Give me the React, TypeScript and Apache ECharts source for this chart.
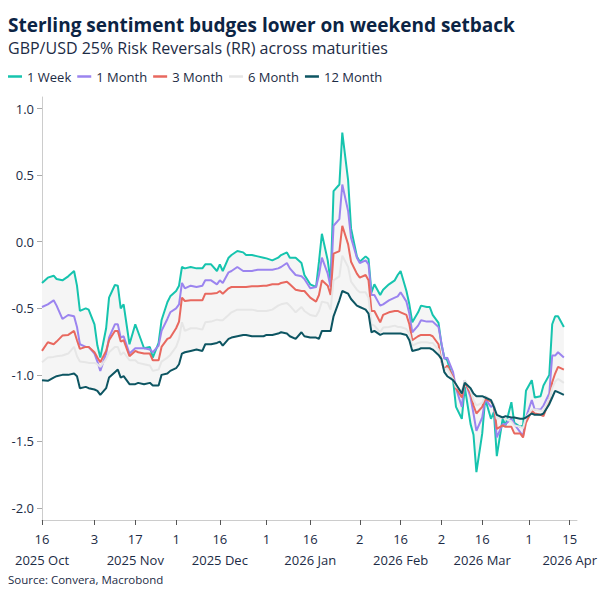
import React, { useEffect, useRef } from "react";
import * as echarts from "echarts";

const START = "2025-10-16";

const dates = [
  "2025-10-16","2025-10-18","2025-10-20","2025-10-21","2025-10-23","2025-10-25","2025-10-27","2025-10-28","2025-10-29","2025-10-31",
  "2025-11-01","2025-11-03","2025-11-04","2025-11-05","2025-11-07","2025-11-08","2025-11-10","2025-11-11","2025-11-12","2025-11-13",
  "2025-11-15","2025-11-17","2025-11-18","2025-11-20","2025-11-22","2025-11-23","2025-11-25","2025-11-26","2025-11-28","2025-11-29",
  "2025-12-01","2025-12-02","2025-12-03","2025-12-04","2025-12-06","2025-12-08","2025-12-10","2025-12-11","2025-12-13","2025-12-15",
  "2025-12-16","2025-12-17","2025-12-19","2025-12-20","2025-12-22","2025-12-24","2025-12-25","2025-12-27","2025-12-29","2025-12-31",
  "2026-01-01","2026-01-03","2026-01-05","2026-01-06","2026-01-08","2026-01-09","2026-01-11","2026-01-13","2026-01-14","2026-01-16",
  "2026-01-18","2026-01-19","2026-01-20","2026-01-22","2026-01-23","2026-01-24","2026-01-26","2026-01-27","2026-01-29","2026-01-30",
  "2026-02-01","2026-02-02","2026-02-04","2026-02-05","2026-02-06","2026-02-07","2026-02-09","2026-02-10","2026-02-12","2026-02-14",
  "2026-02-15","2026-02-16","2026-02-18","2026-02-19","2026-02-20","2026-02-22","2026-02-23","2026-02-25","2026-02-26","2026-02-27",
  "2026-03-01","2026-03-02","2026-03-03","2026-03-04","2026-03-06","2026-03-07","2026-03-09","2026-03-10","2026-03-12","2026-03-13",
  "2026-03-14","2026-03-16","2026-03-17","2026-03-19","2026-03-20","2026-03-21","2026-03-23","2026-03-24","2026-03-26","2026-03-27",
  "2026-03-29","2026-03-30","2026-03-31","2026-04-02","2026-04-03","2026-04-05","2026-04-06","2026-04-08","2026-04-09","2026-04-10",
  "2026-04-11","2026-04-13",
];

const week1 = [
  -0.31,-0.27,-0.255,-0.28,-0.29,-0.26,-0.22,-0.33,-0.52,-0.50,
  -0.51,-0.62,-0.78,-0.87,-0.65,-0.42,-0.325,-0.33,-0.50,-0.47,
  -0.77,-0.62,-0.68,-0.80,-0.79,-0.87,-0.76,-0.59,-0.455,-0.41,
  -0.37,-0.33,-0.19,-0.20,-0.19,-0.20,-0.20,-0.17,-0.17,-0.22,
  -0.17,-0.22,-0.12,-0.10,-0.07,-0.08,-0.10,-0.10,-0.11,-0.12,
  -0.125,-0.14,-0.12,-0.10,-0.08,-0.12,-0.12,-0.16,-0.25,-0.32,
  -0.34,-0.15,0.06,-0.14,-0.30,0.38,0.43,0.82,0.46,0.10,
  -0.11,-0.15,-0.11,-0.13,-0.38,-0.32,-0.40,-0.36,-0.32,-0.29,
  -0.25,-0.22,-0.37,-0.47,-0.605,-0.53,-0.48,-0.49,-0.49,-0.55,
  -0.61,-0.77,-0.87,-0.89,-1.04,-1.24,-1.33,-1.09,-1.37,-1.45,
  -1.73,-1.44,-1.18,-1.33,-1.28,-1.61,-1.33,-1.38,-1.205,-1.36,
  -1.39,-1.38,-1.12,-1.04,-1.17,-1.16,-1.08,-1.0,-0.62,-0.56,
  -0.56,-0.64,
];

const month1 = [
  -0.49,-0.47,-0.44,-0.48,-0.58,-0.55,-0.56,-0.64,-0.77,-0.79,
  -0.79,-0.84,-0.90,-0.97,-0.84,-0.72,-0.62,-0.62,-0.72,-0.71,
  -0.84,-0.80,-0.80,-0.80,-0.81,-0.83,-0.78,-0.67,-0.58,-0.53,
  -0.50,-0.47,-0.31,-0.35,-0.33,-0.34,-0.33,-0.29,-0.29,-0.32,
  -0.29,-0.31,-0.23,-0.22,-0.19,-0.22,-0.22,-0.22,-0.21,-0.21,
  -0.21,-0.21,-0.20,-0.19,-0.16,-0.20,-0.25,-0.26,-0.28,-0.35,
  -0.34,-0.25,-0.12,-0.24,-0.34,0.12,0.17,0.43,0.23,0.03,
  -0.12,-0.16,-0.14,-0.17,-0.40,-0.40,-0.48,-0.47,-0.44,-0.42,
  -0.41,-0.38,-0.45,-0.54,-0.68,-0.63,-0.59,-0.60,-0.60,-0.60,
  -0.64,-0.76,-0.88,-0.87,-0.98,-1.10,-1.24,-1.04,-1.17,-1.29,
  -1.42,-1.32,-1.18,-1.24,-1.23,-1.47,-1.37,-1.37,-1.33,-1.37,
  -1.43,-1.46,-1.32,-1.19,-1.26,-1.26,-1.23,-1.14,-0.855,-0.855,
  -0.83,-0.87,
];

const month3 = [
  -0.82,-0.755,-0.77,-0.75,-0.705,-0.70,-0.67,-0.74,-0.805,-0.79,
  -0.79,-0.83,-0.87,-0.905,-0.82,-0.74,-0.67,-0.67,-0.75,-0.74,
  -0.86,-0.82,-0.83,-0.84,-0.84,-0.89,-0.89,-0.79,-0.73,-0.72,
  -0.65,-0.60,-0.42,-0.445,-0.44,-0.44,-0.44,-0.39,-0.39,-0.385,
  -0.37,-0.39,-0.35,-0.34,-0.34,-0.34,-0.34,-0.335,-0.335,-0.33,
  -0.33,-0.32,-0.32,-0.31,-0.30,-0.32,-0.36,-0.37,-0.37,-0.42,
  -0.45,-0.40,-0.29,-0.33,-0.40,-0.09,-0.07,0.12,-0.02,-0.15,
  -0.24,-0.27,-0.25,-0.29,-0.52,-0.52,-0.605,-0.55,-0.53,-0.52,
  -0.52,-0.53,-0.55,-0.62,-0.74,-0.71,-0.70,-0.70,-0.70,-0.71,
  -0.77,-0.90,-0.96,-0.93,-1.02,-1.10,-1.17,-1.055,-1.14,-1.23,
  -1.29,-1.24,-1.18,-1.20,-1.23,-1.405,-1.38,-1.39,-1.39,-1.44,
  -1.44,-1.47,-1.36,-1.27,-1.29,-1.30,-1.31,-1.19,-1.055,-0.99,
  -0.94,-0.96,
];

const month6 = [
  -0.905,-0.87,-0.865,-0.86,-0.855,-0.84,-0.79,-0.86,-0.90,-0.905,
  -0.91,-0.91,-0.92,-0.94,-0.88,-0.83,-0.79,-0.79,-0.85,-0.83,
  -0.89,-0.89,-0.91,-0.92,-0.93,-0.97,-0.96,-0.90,-0.87,-0.85,
  -0.79,-0.73,-0.605,-0.67,-0.65,-0.65,-0.66,-0.605,-0.60,-0.585,
  -0.59,-0.59,-0.55,-0.53,-0.51,-0.51,-0.51,-0.51,-0.52,-0.52,
  -0.52,-0.51,-0.48,-0.47,-0.46,-0.48,-0.53,-0.49,-0.52,-0.55,
  -0.56,-0.52,-0.45,-0.46,-0.51,-0.29,-0.26,-0.105,-0.19,-0.30,
  -0.36,-0.38,-0.38,-0.42,-0.62,-0.63,-0.68,-0.645,-0.64,-0.63,
  -0.64,-0.64,-0.655,-0.69,-0.78,-0.76,-0.755,-0.755,-0.76,-0.76,
  -0.81,-0.90,-0.96,-0.95,-1.03,-1.09,-1.12,-1.04,-1.12,-1.19,
  -1.23,-1.21,-1.16,-1.19,-1.22,-1.33,-1.32,-1.33,-1.35,-1.38,
  -1.39,-1.40,-1.32,-1.26,-1.26,-1.27,-1.27,-1.18,-1.10,-1.05,
  -1.03,-1.06,
];

const month12 = [
  -1.04,-1.045,-1.02,-1.01,-1.0,-1.0,-0.99,-1.01,-1.10,-1.09,
  -1.10,-1.11,-1.12,-1.15,-1.10,-1.02,-0.98,-0.96,-1.02,-1.01,
  -1.07,-1.07,-1.06,-1.07,-1.06,-1.08,-1.08,-1.00,-0.99,-0.97,
  -0.95,-0.92,-0.84,-0.83,-0.82,-0.81,-0.82,-0.77,-0.77,-0.76,
  -0.75,-0.78,-0.73,-0.72,-0.71,-0.70,-0.70,-0.71,-0.71,-0.71,
  -0.70,-0.70,-0.69,-0.68,-0.69,-0.71,-0.73,-0.68,-0.71,-0.72,
  -0.72,-0.73,-0.67,-0.67,-0.67,-0.56,-0.44,-0.37,-0.39,-0.43,
  -0.48,-0.49,-0.51,-0.54,-0.68,-0.67,-0.70,-0.69,-0.69,-0.69,
  -0.69,-0.69,-0.70,-0.74,-0.82,-0.81,-0.80,-0.80,-0.80,-0.81,
  -0.85,-0.88,-0.98,-1.01,-1.04,-1.07,-1.14,-1.06,-1.10,-1.14,
  -1.16,-1.16,-1.17,-1.19,-1.24,-1.30,-1.32,-1.31,-1.32,-1.32,
  -1.33,-1.33,-1.32,-1.29,-1.30,-1.30,-1.29,-1.22,-1.17,-1.12,
  -1.13,-1.15,
];

const seriesNames = ["1 Week", "1 Month", "3 Month", "6 Month", "12 Month"];
const seriesColors = ["#16c4ae", "#9b84ef", "#e8685f", "#e6e6e6", "#0d5562"];

const tickDates = [
  "2025-10-16","2025-11-03","2025-11-17","2025-12-01","2025-12-16","2026-01-01",
  "2026-01-16","2026-02-02","2026-02-16","2026-03-02","2026-03-16","2026-04-01","2026-04-15",
];
const tickDayLabels = ["16","3","17","1","16","1","16","2","16","2","16","1","15"];
const tickMonthLabels = ["2025 Oct","","2025 Nov","","2025 Dec","","2026 Jan","","2026 Feb","","2026 Mar","","2026 Apr"];

const yTicks = [-2, -1.5, -1, -0.5, 0, 0.5, 1];

const FONT = "'Open Sans', 'Noto Sans', sans-serif";
const TEXT = "#1c2b45";
const TITLE = "#0c2444";

function dayOf(s: string): number {
  const [y, m, d] = s.split("-").map(Number);
  const [y0, m0, d0] = START.split("-").map(Number);
  return Math.round((Date.UTC(y, m - 1, d) - Date.UTC(y0, m0 - 1, d0)) / 86400000);
}

export default function App() {
  const ref = useRef<HTMLDivElement>(null);
  useEffect(() => {
    if (!ref.current) return;
    const chart = echarts.init(ref.current, null, { renderer: "svg" });
    const xs = dates.map(dayOf);
    const all = [week1, month1, month3, month6, month12];
    const lo = xs.map((x, i) => [x, Math.min(...all.map((a) => a[i]))]);
    const hi = xs.map((x, i) => [x, Math.max(...all.map((a) => a[i]))]);
    const tickDays = tickDates.map(dayOf);
    const labelMap: Record<number, string> = {};
    tickDays.forEach((d, i) => {
      labelMap[d] = tickMonthLabels[i] ? tickDayLabels[i] + "\n" + tickMonthLabels[i] : tickDayLabels[i];
    });

    const lineSeries = all.map((arr, k) => ({
      name: seriesNames[k],
      type: "line",
      data: xs.map((x, i) => [x, arr[i]]),
      showSymbol: false,
      symbol: "none",
      lineStyle: { width: 2, color: seriesColors[k] },
      itemStyle: { color: seriesColors[k] },
      z: 3,
    }));

    chart.setOption({
      animation: false,
      title: [
        {
          text: "Sterling sentiment budges lower on weekend setback",
          left: 8, top: 15, padding: 0,
          textStyle: { fontFamily: FONT, fontSize: 19, fontWeight: "bold", color: TITLE },
        },
        {
          text: "GBP/USD 25% Risk Reversals (RR) across maturities",
          left: 8, top: 40, padding: 0,
          textStyle: { fontFamily: FONT, fontSize: 16, fontWeight: "normal", color: TEXT },
        },
        {
          text: "Source: Convera, Macrobond",
          left: 8, top: 573, padding: 0,
          textStyle: { fontFamily: FONT, fontSize: 11.5, fontWeight: "normal", color: TEXT },
        },
      ],
      legend: {
        data: seriesNames,
        left: 8, top: 70, padding: 0,
        icon: "rect", itemWidth: 14, itemHeight: 2.5, itemGap: 6,
        textStyle: { fontFamily: FONT, fontSize: 13, color: TEXT },
      },
      grid: { left: 42, right: 14, top: 97, bottom: 80, containLabel: false },
      xAxis: {
        type: "value",
        min: 0,
        max: 183.5,
        axisLine: { show: true, onZero: false, lineStyle: { color: "#cccccc", width: 1 } },
        axisTick: { show: true, customValues: tickDays, length: 5, lineStyle: { color: "#555555" } },
        axisLabel: {
          customValues: tickDays,
          formatter: (v: number) => labelMap[Math.round(v)] ?? "",
          fontFamily: FONT, fontSize: 13, color: TEXT, margin: 8, lineHeight: 21,
        },
        splitLine: { show: false },
      },
      yAxis: {
        type: "value",
        min: -2.09,
        max: 1.087,
        axisLine: { show: true, lineStyle: { color: "#cccccc", width: 1 } },
        axisTick: { show: true, customValues: yTicks, length: 5, lineStyle: { color: "#aaaaaa" } },
        axisLabel: {
          customValues: yTicks,
          formatter: (v: number) => v.toFixed(1),
          fontFamily: FONT, fontSize: 13, color: TEXT, margin: 8,
        },
        splitLine: { show: false },
      },
      series: [
        {
          name: "band",
          type: "custom",
          data: lo,
          encode: { x: 0, y: 1 },
          silent: true,
          z: 1,
          renderItem: (params: any, api: any) => {
            if (params.dataIndex !== 0) return null;
            const top = hi.map((p) => api.coord(p));
            const bottom = lo.slice().reverse().map((p) => api.coord(p));
            return {
              type: "polygon",
              shape: { points: top.concat(bottom) },
              style: { fill: "#f5f5f5", stroke: "none" },
              silent: true,
            };
          },
        },
        ...lineSeries,
      ],
    });
    return () => chart.dispose();
  }, []);
  return (
    <div
      ref={ref}
      style={{ position: "absolute", left: 0, top: 0, width: 600, height: 600, background: "#ffffff" }}
    />
  );
}
